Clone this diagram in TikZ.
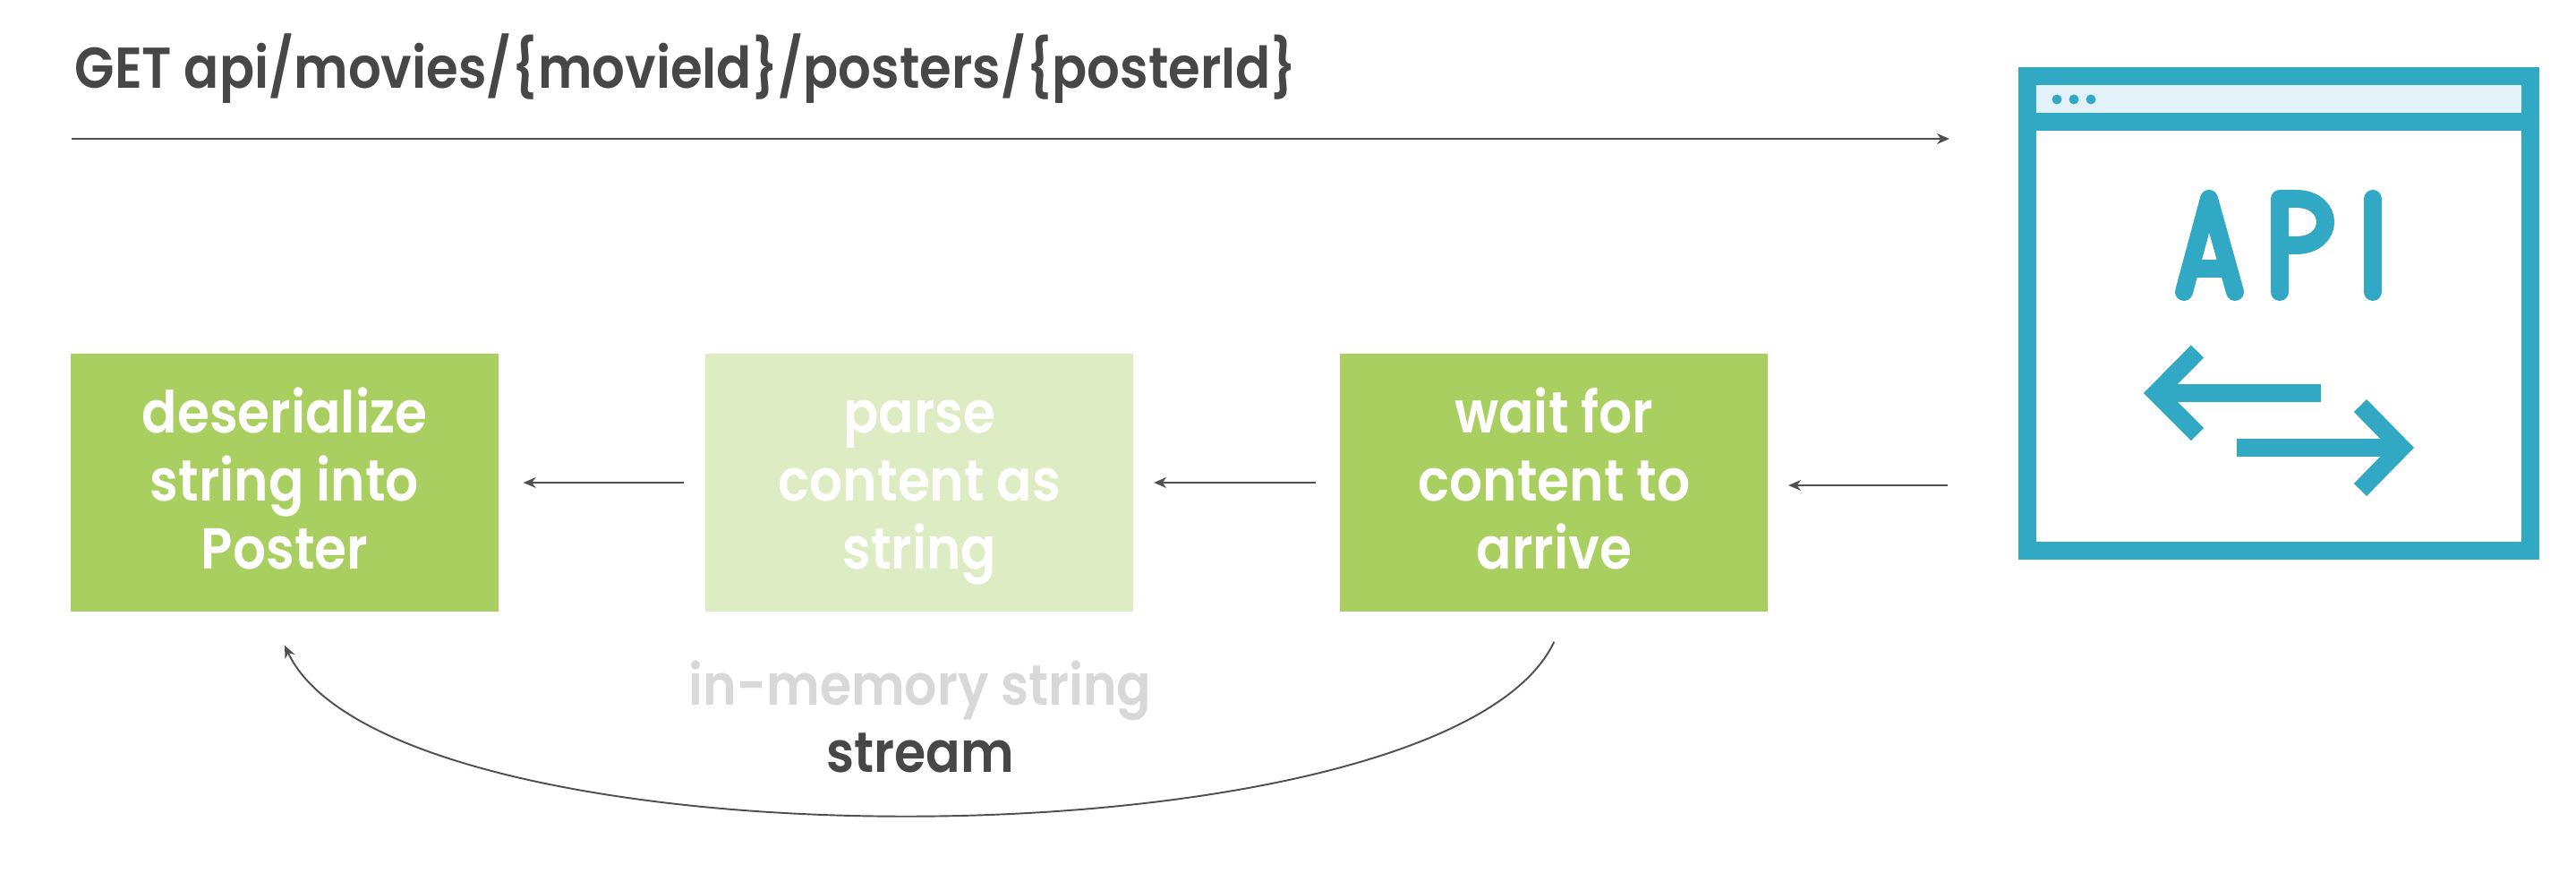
\documentclass[tikz,border=0pt]{standalone}
\usepackage{fontspec}
\setmainfont{Poppins}[BoldFont=* SemiBold, BoldFeatures={FakeStretch=0.9}]
\usetikzlibrary{positioning, arrows.meta}

\definecolor{darktext}{HTML}{474747}
\definecolor{linegrey}{HTML}{505050}
\definecolor{fadedtext}{HTML}{D8D8D8}
\definecolor{boxgreen}{HTML}{A9CF60}
\definecolor{fadedgreen}{HTML}{DEECC4}
\definecolor{apiblue}{HTML}{32A9C4}
\definecolor{barblue}{HTML}{E2F2F8}

\begin{document}
\begin{tikzpicture}[
    >={Stealth[length=4pt, width=3.4pt]},
    font=\bfseries\fontsize{18.0}{21.6}\selectfont,
    stepbox/.style={minimum width=4.78cm, minimum height=2.88cm, inner sep=0pt, align=center, text=white, fill=boxgreen, font=\bfseries\fontsize{18.4}{21.6}\selectfont, text height=59pt, text depth=4.2pt},
    flow/.style={->, draw=linegrey, line width=0.55pt},
    apiline/.style={draw=apiblue, line width=20*0.2845pt}
]
    \useasboundingbox (0,0) rectangle (28.78,9.84);

    % --- request line ---
    \node [anchor=base west, inner sep=0pt, text=darktext, font=\bfseries\fontsize{18.27}{21.6}\selectfont] (request) at (0.83, 8.85) {GET api/movies/\{movieId\}/posters/\{posterId\}};
    \coordinate (reqstart) at (0.80, 8.29);
    \coordinate (reqend) at (21.78, 8.29);
    \draw [flow] (reqstart) -- (reqend);

    % --- three steps ---
    \node [stepbox] (deser) at (3.18, 4.45) {deserialize\\string into\\Poster};
    \node [stepbox, fill=fadedgreen, right=2.30cm of deser] (parse) {parse\\content as\\string};
    \node [stepbox, right=2.295cm of parse] (wait) {wait for\\content to\\arrive};
    \coordinate (apiout) at (21.76, 4.42);

    \draw [flow, shorten <=0.24cm, shorten >=0.27cm] (parse) -- (deser);
    \draw [flow, shorten <=0.27cm, shorten >=0.22cm] (wait) -- (parse);
    \draw [flow, shorten >=0.22cm] (apiout) -- (wait.east |- apiout);

    % --- stream curve ---
    \draw [flow] ([yshift=-0.33cm]wait.south) .. controls +(-1.2,-2.56) and +(1.2,-2.56) .. ([yshift=-0.37cm]deser.south);
    \node [anchor=base, text=fadedtext] (memlabel) at (10.28, 1.97) {in-memory string};
    \node [below=0.75cm of memlabel.base, anchor=base, text=darktext] (streamlabel) {stream};

    % --- api window ---
    \node [draw=apiblue, line width=20*0.2845pt, minimum width=5.62cm, minimum height=5.30cm, inner sep=0pt] (api) at (25.46, 6.34) {};
    \fill [barblue] (22.75, 8.89) rectangle (28.17, 8.575);
    \fill [apiblue] (22.65, 8.575) rectangle (28.27, 8.375);
    \foreach \dotx in {22.98, 23.17, 23.36}
        \fill [apiblue] (\dotx, 8.73) circle (0.055);

    % A, P, I
    \draw [apiline, line cap=round, line join=round] (24.40, 6.58) -- (24.68, 7.62) -- (24.97, 6.58);
    \draw [apiline] (24.50, 6.84) -- (24.87, 6.84);
    \draw [apiline, line cap=round, line join=round] (25.47, 6.58) -- (25.47, 7.62) -- (25.65, 7.62) .. controls (26.09, 7.62) and (26.09, 7.10) .. (25.65, 7.10) -- (25.47, 7.10);
    \draw [apiline, line cap=round] (26.51, 6.58) -- (26.51, 7.62);

    % arrows
    \draw [apiline, miter limit=4] (24.55, 5.915) -- (24.09, 5.45) -- (24.55, 4.99);
    \draw [apiline] (24.09, 5.45) -- (25.93, 5.45);
    \draw [apiline, miter limit=4] (26.37, 5.31) -- (26.83, 4.84) -- (26.37, 4.37);
    \draw [apiline] (24.99, 4.84) -- (26.83, 4.84);
\end{tikzpicture}
\end{document}
